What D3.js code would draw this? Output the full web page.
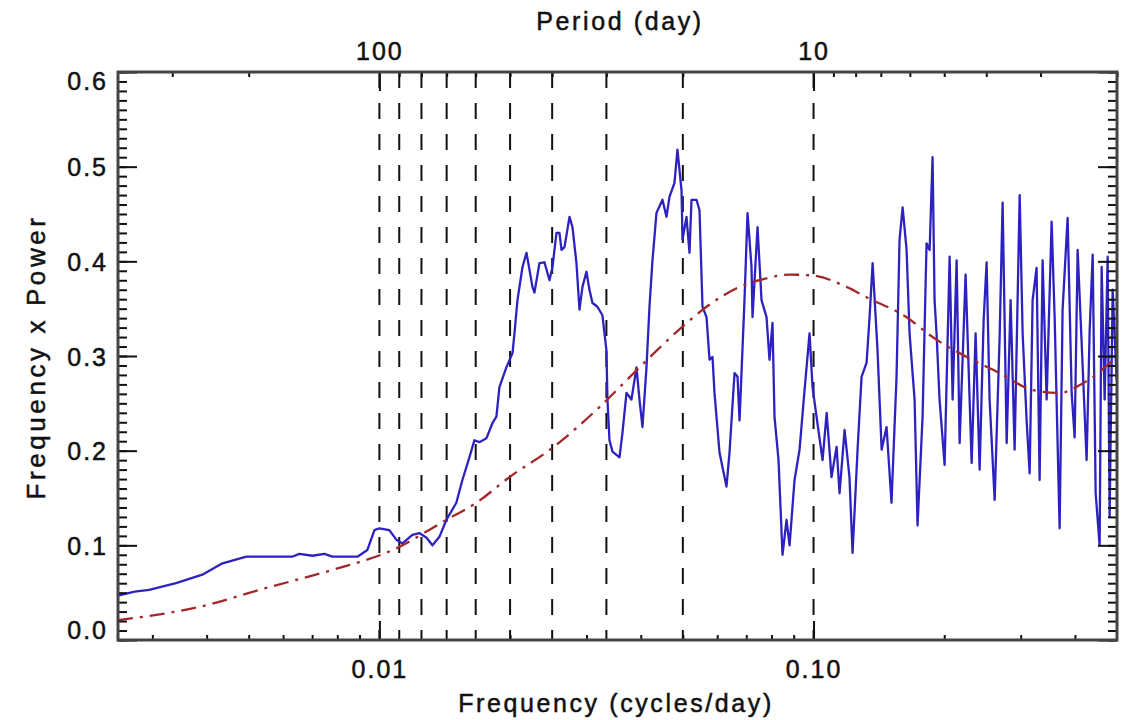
<!DOCTYPE html>
<html>
<head>
<meta charset="utf-8">
<style>
    body { margin: 0; background: #fff; }
    text { font-family: "Liberation Sans", Arial, sans-serif; fill: #111; stroke: #111; stroke-width: 0.5px; }
    .tick text { font-size: 25px; letter-spacing: 2px; }
    .title { font-size: 25px; letter-spacing: 2.6px; }
    .ytitle { font-size: 26px; letter-spacing: 3.6px; }
    .blue { fill: none; stroke: #2d22c0; stroke-width: 2.3; stroke-linejoin: round; }
    .red { fill: none; stroke: #a3262a; stroke-width: 2.3; stroke-dasharray: 15,7,3,7; }
    .period { stroke: #111; stroke-width: 2; stroke-dasharray: 16,15; }
</style>
</head>
<body>
<script src="https://d3js.org/d3.v7.min.js"></script>
<div class="chart"></div>
<script>
// periodogram (frequency in cycles/day, frequency x power)
var blueFreq = [0.0025,0.00273,0.00295,0.0034,0.00391,0.00435,0.00494,0.00558,0.0063,0.00654,
    0.00701,0.00747,0.00779,0.0089,0.00938,0.00974,0.01,0.01054,0.01094,0.0113,
    0.01191,0.01236,0.01284,0.01325,0.01375,0.01427,0.01504,0.01553,0.01612,0.01655,
    0.017,0.01764,0.01821,0.0186,0.0189,0.01961,0.02026,0.02047,0.0208,0.02136,
    0.02182,0.02252,0.02276,0.02337,0.024,0.02465,0.02504,0.02558,0.02599,0.02627,
    0.02669,0.02741,0.02785,0.02844,0.0289,0.02936,0.02999,0.03047,0.03096,0.03179,
    0.03264,0.03334,0.03352,0.03388,0.03443,0.03573,0.0363,0.03708,0.03807,0.0391,
    0.03973,0.04036,0.04123,0.04189,0.04256,0.04347,0.04488,0.04584,0.04657,0.04783,
    0.04859,0.04965,0.04991,0.05098,0.0518,0.05235,0.05376,0.05462,0.05549,0.05669,
    0.0576,0.05852,0.05914,0.06073,0.06302,0.06404,0.06577,0.06683,0.06754,0.06934,
    0.07046,0.07197,0.07235,0.0743,0.07589,0.07793,0.07917,0.08044,0.0813,0.08305,
    0.08483,0.08665,0.08805,0.09041,0.09284,0.09535,0.0979,0.09947,0.1016,0.1049,
    0.1072,0.11,0.113,0.1148,0.1179,0.121,0.123,0.1263,0.129,0.1325,
    0.1346,0.1368,0.1404,0.1435,0.1473,0.1512,0.1553,0.1578,0.1604,0.1638,
    0.1664,0.1709,0.1736,0.1783,0.1821,0.1851,0.188,0.19,0.192,0.1951,
    0.2004,0.2058,0.2091,0.2136,0.217,0.224,0.2313,0.2362,0.2413,0.2465,
    0.2504,0.2544,0.2613,0.2683,0.2726,0.2785,0.2844,0.2905,0.2984,0.3031,
    0.3096,0.3146,0.3196,0.3264,0.3317,0.337,0.3443,0.3535,0.3592,0.3688,
    0.3747,0.3848,0.3931,0.3994,0.4058,0.4145,0.4256,0.4325,0.4395,0.4465,
    0.456,0.4609,0.4683,0.4758,0.4808,0.4886,0.499];
var bluePower = [0.047,0.051,0.053,0.060,0.069,0.081,0.088,0.088,0.088,0.091,
    0.089,0.091,0.088,0.088,0.095,0.116,0.118,0.116,0.106,0.102,
    0.111,0.113,0.108,0.100,0.109,0.127,0.145,0.169,0.193,0.211,
    0.209,0.213,0.229,0.236,0.267,0.288,0.303,0.324,0.359,0.394,
    0.409,0.373,0.367,0.398,0.399,0.380,0.394,0.430,0.430,0.412,
    0.415,0.447,0.436,0.398,0.349,0.373,0.389,0.370,0.356,0.352,
    0.343,0.306,0.254,0.211,0.199,0.193,0.219,0.261,0.254,0.288,
    0.254,0.225,0.288,0.352,0.401,0.451,0.465,0.447,0.468,0.483,
    0.518,0.475,0.423,0.447,0.409,0.465,0.465,0.454,0.352,0.341,
    0.296,0.299,0.261,0.198,0.162,0.198,0.282,0.278,0.232,0.359,
    0.451,0.394,0.341,0.436,0.359,0.341,0.296,0.335,0.236,0.190,
    0.090,0.127,0.100,0.169,0.201,0.264,0.324,0.267,0.236,0.190,
    0.240,0.172,0.204,0.155,0.222,0.172,0.092,0.201,0.278,0.293,
    0.341,0.398,0.306,0.201,0.225,0.145,0.278,0.423,0.457,0.412,
    0.324,0.254,0.121,0.236,0.419,0.412,0.510,0.359,0.324,0.254,
    0.185,0.405,0.254,0.401,0.208,0.386,0.187,0.324,0.180,0.338,
    0.399,0.254,0.148,0.320,0.462,0.208,0.359,0.201,0.470,0.324,
    0.232,0.176,0.359,0.393,0.169,0.401,0.254,0.442,0.341,0.118,
    0.349,0.446,0.261,0.214,0.412,0.314,0.190,0.327,0.407,0.155,
    0.100,0.394,0.254,0.405,0.130,0.370,0.275];

// smooth background model (red dash-dot)
var redFreq = [0.0025,0.00385,0.00549,0.00779,0.01072,0.01427,0.01673,0.01993,0.02504,0.03213,
    0.03973,0.04991,0.05669,0.06754,0.07793,0.08805,0.09947,0.1191,0.1325,0.1638,
    0.188,0.2252,0.2683,0.3196,0.3688,0.4167,0.499];
var redPower = [0.021,0.035,0.055,0.074,0.095,0.127,0.145,0.172,0.203,0.246,
    0.288,0.331,0.352,0.373,0.382,0.386,0.385,0.373,0.362,0.341,
    0.320,0.299,0.282,0.264,0.261,0.271,0.299];

// axes
var yMajor = [0, 0.1, 0.2, 0.3, 0.4, 0.5, 0.6];
var yLabels = ["0.0", "0.1", "0.2", "0.3", "0.4", "0.5", "0.6"];
var xMajor = [0.01, 0.1];
var xLabels = ["0.01", "0.10"];
var xMinor = [0.003,0.004,0.005,0.006,0.007,0.008,0.009,0.02,0.03,0.04,0.05,0.06,0.07,0.08,0.09,0.2,0.3,0.4];
var periodMajor = [100, 10];
var periodMinor = [300, 200, 90, 80, 70, 60, 50, 40, 30, 20, 9, 8, 7, 6, 5, 4, 3, 2];
var periodLines = [100, 90, 80, 70, 60, 50, 40, 30, 20, 10];

var margin = {top: 72, right: 15, bottom: 80, left: 118},
    width = 999,
    height = 568;

var xScale = d3.scaleLog().domain([0.0025, 0.5]).range([0, width]);
var yScale = d3.scaleLinear().domain([0, 0.6]).range([height, 0]);

var svg = d3.select(".chart").append("svg")
    .attr("width", 1132)
    .attr("height", 720)
    .append("g")
    .attr("transform", "translate(" + margin.left + "," + margin.top + ")");

// period marker lines
svg.selectAll(".period")
    .data(periodLines)
    .enter().append("line")
    .attr("class", "period")
    .attr("x1", function(d) { return xScale(1 / d); })
    .attr("x2", function(d) { return xScale(1 / d); })
    .attr("y1", 0)
    .attr("y2", height);

var blueData = blueFreq.map(function(f, i) { return {f: f, p: bluePower[i]}; });
var redData = redFreq.map(function(f, i) { return {f: f, p: redPower[i]}; });

var line = d3.line()
    .x(function(d) { return xScale(d.f); })
    .y(function(d) { return yScale(d.p); });

svg.append("path")
    .datum(blueData)
    .attr("class", "blue")
    .attr("d", line);

svg.append("path")
    .datum(redData)
    .attr("class", "red")
    .attr("d", line.curve(d3.curveMonotoneX));

function clean(g) {
    g.select(".domain").remove();
    g.selectAll(".tick line").attr("stroke", "#111").attr("stroke-width", 2);
}

// left axis
svg.append("g")
    .call(d3.axisLeft(yScale).tickValues(d3.range(0, 0.6001, 0.01)).tickSize(-9).tickFormat(""))
    .call(clean);
svg.append("g")
    .attr("class", "y axis")
    .call(d3.axisLeft(yScale).tickValues(yMajor).tickSize(-19).tickPadding(10)
        .tickFormat(function(d, i) { return yLabels[i]; }))
    .call(clean)
    .selectAll(".tick text")
    .attr("dy", function(d) { return d === 0 ? "-0.05em" : (d === 0.6 ? "0.7em" : "0.36em"); });

// right axis
svg.append("g")
    .attr("transform", "translate(" + width + ",0)")
    .call(d3.axisRight(yScale).tickValues(d3.range(0, 0.6001, 0.01)).tickSize(-9).tickFormat(""))
    .call(clean);
svg.append("g")
    .attr("transform", "translate(" + width + ",0)")
    .call(d3.axisRight(yScale).tickValues(yMajor).tickSize(-19).tickFormat(""))
    .call(clean);

// bottom axis
svg.append("g")
    .attr("transform", "translate(0," + height + ")")
    .call(d3.axisBottom(xScale).tickValues(xMinor).tickSize(-5).tickFormat(""))
    .call(clean);
svg.append("g")
    .attr("transform", "translate(0," + height + ")")
    .call(d3.axisBottom(xScale).tickValues(xMajor).tickSize(-19).tickPadding(20)
        .tickFormat(function(d, i) { return xLabels[i]; }))
    .call(clean);

// top axis (period)
svg.append("g")
    .call(d3.axisTop(xScale).tickValues(periodMinor.map(function(p) { return 1 / p; })).tickSize(-5).tickFormat(""))
    .call(clean);
svg.append("g")
    .call(d3.axisTop(xScale).tickValues(periodMajor.map(function(p) { return 1 / p; })).tickSize(-19).tickPadding(12)
        .tickFormat(function(d, i) { return periodMajor[i]; }))
    .call(clean);

// frame
svg.append("rect")
    .attr("width", width)
    .attr("height", height)
    .attr("fill", "none")
    .attr("stroke", "#444")
    .attr("stroke-width", 3);

svg.append("text")
    .attr("class", "title")
    .attr("x", 502)
    .attr("y", -42)
    .attr("text-anchor", "middle")
    .text("Period (day)");

svg.append("text")
    .attr("class", "title")
    .attr("x", 498)
    .attr("y", height + 72)
    .attr("text-anchor", "middle")
    .text("Frequency (cycles/day)");

svg.append("text")
    .attr("class", "ytitle")
    .attr("transform", "translate(-73," + (height / 2 + 1) + ") rotate(-90)")
    .attr("text-anchor", "middle")
    .text("Frequency x Power");
</script>
</body>
</html>
